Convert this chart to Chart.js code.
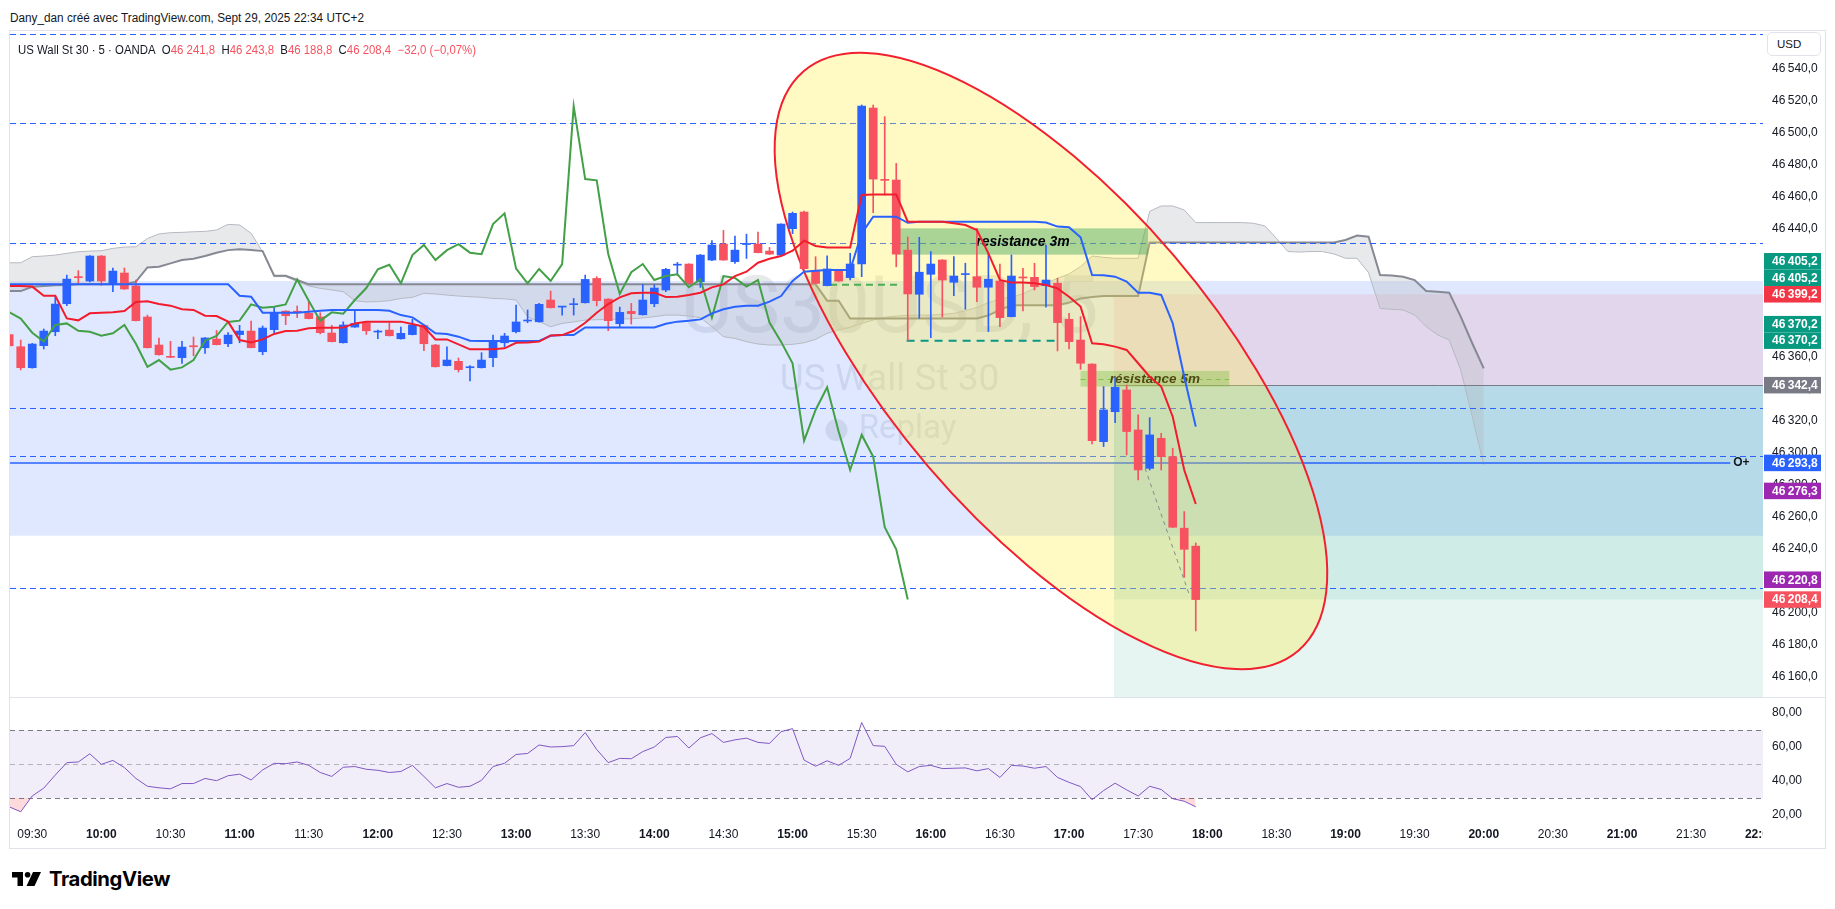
<!DOCTYPE html>
<html lang="fr"><head><meta charset="utf-8"><title>US Wall St 30 · 5 · OANDA</title>
<script src="https://cdn.jsdelivr.net/npm/chart.js@4.4.1/dist/chart.umd.min.js"></script>
<style>
html,body{margin:0;padding:0}
body{width:1835px;height:909px;background:#fff;position:relative;overflow:hidden;font-family:'Liberation Sans',Arial,sans-serif;color:#131722}
.abs{position:absolute}
#legend .v{color:#f7525f}
</style></head><body>
<div id="hdr" class="abs" style="left:10px;top:11px;font-size:12px;line-height:15px;white-space:nowrap;color:#131722">Dany_dan créé avec TradingView.com, Sept 29, 2025 22:34 UTC+2</div>
<div class="abs" style="left:9px;top:30px;width:1817px;height:819px;border:1px solid #e0e3eb;box-sizing:border-box"></div>
<canvas id="main" class="abs" width="1815" height="666" style="left:10px;top:31px;width:1815px;height:666px"></canvas>
<div class="abs" style="left:10px;top:697px;width:1815px;height:1px;background:#e0e3eb"></div>
<canvas id="rsi" class="abs" width="1815" height="150" style="left:10px;top:698px;width:1815px;height:150px"></canvas>
<div id="legend" class="abs" style="left:18px;top:43px;font-size:12px;line-height:14px;white-space:nowrap">US Wall St 30 · 5 · OANDA&nbsp;&nbsp;O<span class="v">46 241,8</span>&nbsp;&nbsp;H<span class="v">46 243,8</span>&nbsp;&nbsp;B<span class="v">46 188,8</span>&nbsp;&nbsp;C<span class="v">46 208,4</span>&nbsp;&nbsp;<span class="v">−32,0 (−0,07%)</span></div>
<div class="abs" style="left:1767px;top:32px;width:54px;height:24px;border:1px solid #e0e3eb;border-radius:5px;box-sizing:border-box;font-size:11.5px;line-height:22px;padding-left:9px;color:#131722;background:#fff">USD</div>
<div class="abs" style="left:12px;top:872px;width:30px;height:14px">
<svg width="30" height="14" viewBox="0 0 30 14"><path d="M0 0H11V14H5.5V5.5H0Z" fill="#000"/><circle cx="15.6" cy="2.8" r="2.8" fill="#000"/><path d="M21 0H29L22.5 14H14.5Z" fill="#000"/></svg></div>
<div id="logo" class="abs" style="left:49px;top:867px;font-family:Inter,'Liberation Sans',sans-serif;font-weight:700;font-size:20px;line-height:24px;letter-spacing:-0.4px;color:#000;white-space:nowrap">TradingView</div>
<script>
// ---------- DATA ----------
const firstBarTime = '09:20';   // 5-minute bars
const barMinutes = 5;
const opens = [46374,46366.4,46353.3,46367.1,46375.8,46393.3,46410.2,46407.5,46423.1,46405.4,
46412.5,46404.4,46385,46367.5,46360,46359.6,46366.8,46365.8,46371.2,46368.3,
46374,46376.2,46363.3,46377.1,46388.7,46388.3,46387.3,46385,46375,46368.9,
46378.7,46381.4,46375.6,46376.8,46371.4,46374,46379.6,46367.5,46354.6,46357.3,
46353.3,46353.3,46359.6,46368.9,46375.8,46382.5,46382,46395.6,46391.2,46392.7,
46393.9,46409.1,46396.2,46380.8,46388.5,46386.4,46393.3,46401.9,46417.4,46418.1,
46407,46420.6,46430.6,46419.6,46430.3,46430.6,46426.2,46423.7,46440.2,46450.6,
46413.7,46404.6,46413.7,46409.6,46418.1,46515.6,46470.6,46470.6,46426.8,46399.2,
46411.7,46420.6,46406.7,46411.5,46410.2,46403.6,46407.5,46385.2,46409.6,46409.8,
46404.6,46406.1,46383.6,46370.6,46355.6,46307.1,46325.8,46339.4,46314.4,46290.4,
46309.2,46297.7,46253,46241.8];
const highs = [46375,46370.6,46368.5,46377.5,46397.7,46411.2,46414,46423.4,46423.4,46415.6,
46415.6,46408.1,46386.2,46371.9,46369.8,46369.8,46372.5,46372.1,46376.6,46375.2,
46379.8,46382.5,46379.4,46391.4,46388.9,46391.9,46394.8,46387.7,46379.8,46382,
46388.7,46381.6,46376.8,46381.4,46378.7,46383.5,46379.8,46367.9,46366.4,46359.4,
46354.6,46362.7,46373.7,46374.8,46392.5,46389.4,46393.5,46401.2,46391.6,46396.6,
46411.2,46410.2,46396.4,46391.2,46393.5,46405.4,46405.2,46415.4,46419.1,46418.3,
46424.1,46432.7,46439.1,46435.6,46436.8,46438.1,46428.5,46443.3,46450.6,46451.2,
46422.7,46423.3,46414.4,46424.8,46517.5,46517.5,46510.2,46481,46435,46434.8,
46425.9,46420.8,46422.7,46418.6,46440.4,46424.8,46418,46423.8,46415.4,46418.6,
46430,46409.2,46387.3,46385.2,46355.8,46341.5,46347.1,46342.5,46323.8,46322.1,
46312.3,46303,46263.4,46243.8];
const lows = [46366,46351.9,46353,46365,46373.3,46392.1,46405.4,46406.9,46404.8,46400.8,
46402.3,46382.5,46365.6,46361.2,46359.6,46356,46360.8,46362.3,46367.5,46366.4,
46368.9,46365.6,46361.4,46375.2,46380.2,46384.6,46383.8,46374.4,46369.4,46368.7,
46378.5,46374.1,46371.4,46373.1,46371.2,46373.8,46364,46353.7,46354.4,46350.6,
46345,46353.1,46354,46366.4,46375,46381.4,46381.8,46390.6,46386.2,46386.2,
46393.7,46391.9,46376.4,46378.7,46380.6,46386.2,46391.4,46400.8,46411.2,46405.8,
46403.5,46420.2,46420.4,46418.5,46421.6,46425,46424.1,46423.5,46437.1,46415,
46405.8,46404.4,46407.3,46408.1,46410.2,46450.2,46461.2,46416.4,46370.2,46384.2,
46372.1,46385,46398.4,46389.8,46394.6,46375.9,46379,46385,46388.8,46401.9,
46391.1,46363.8,46365,46352.3,46305.6,46304,46319,46298.8,46283.1,46289.4,
46289.4,46253.4,46222.3,46188.8];
const closes = [46367,46353.3,46368.1,46376.2,46393.1,46408.7,46409.6,46423.1,46407.5,46413.7,
46402.5,46382.7,46365.8,46361.4,46359.8,46366.2,46366.4,46371.9,46367.7,46373.7,
46376.2,46365.8,46378.1,46387.7,46385.8,46388,46384,46375.2,46369.6,46380,
46381,46376.4,46375.8,46373.3,46374.8,46380,46368.3,46353.9,46358.1,46352.1,
46353.5,46358.1,46370.2,46373.1,46381.9,46382.7,46392.9,46390.8,46391.4,46392.9,
46408.5,46395.2,46382.7,46387.9,46387.1,46395.6,46403.1,46414.8,46417.6,46406,
46423.7,46430,46420.6,46426.8,46430.5,46425.2,46424.3,46443.1,46449.8,46415.2,
46406,46415,46407.5,46418.1,46516.8,46471.2,46470.4,46424.3,46399.4,46413,
46418.1,46408.1,46410.6,46411.7,46403.6,46408.6,46384.6,46410.6,46409.4,46404,
46408.1,46381.5,46369.6,46356.1,46307.7,46326.9,46341.1,46313.4,46289.4,46311.3,
46297.7,46253.6,46239.8,46208.4];
// Ichimoku lines as seen on the chart (one value per bar from 09:20)
const conversionLine = [46404.4,46404.4,46404,46398.3,46398.3,46384.1,46382.9,46387.3,46387.7,46387.9,
46388.7,46394.4,46394.8,46393.1,46392.1,46389.8,46389.4,46385.8,46385.6,46382.1,
46370.6,46369.1,46371,46374.4,46376.2,46376.4,46377.9,46378.3,46378.3,46378.5,
46381,46382.1,46382.1,46382.1,46382.1,46380.6,46378.9,46371,46371,46367.9,
46364.8,46364.8,46364.8,46365.4,46368.9,46369.1,46369.6,46373.5,46373.7,46376.4,
46381.4,46387.7,46393.1,46397.3,46399.8,46400.2,46400.2,46397.5,46397.7,46398.7,
46400.2,46403.5,46405.4,46410.6,46413.3,46418.9,46421.4,46423.1,46426.4,46432.7,
46429.4,46428.5,46428.5,46428.5,46461.2,46461.6,46461.6,46461.6,46444.6,46444.6,
46444.6,46444.6,46443.6,46442.5,46439.4,46424.8,46408.2,46406.5,46406.5,46406.1,
46405,46402.9,46397.7,46391.5,46368.6,46368,46366.5,46364.4,46356.1,46347.7,
46341.5,46322.7,46289.4,46268.1];
const baseLine = [46405.4,46405.4,46405.4,46405.4,46405.4,46405.4,46405.4,46405.4,46405.4,46405.4,
46405.4,46405.4,46405.4,46405.4,46405.4,46405.4,46405.4,46405.4,46405.4,46405.4,
46398.3,46397.7,46387.7,46387.7,46387.7,46387.7,46388.3,46388.9,46389.4,46389.4,
46389.4,46389.4,46389.4,46388.9,46386.2,46384.8,46380,46374.8,46374.4,46372.7,
46370.2,46370,46370,46370,46370,46370,46370,46373.3,46373.7,46373.7,
46378.5,46378.5,46378.5,46378.5,46378.5,46378.5,46378.5,46380.8,46382.1,46382.7,
46383.5,46387.3,46389.8,46391.4,46392.1,46392.1,46394.6,46398.1,46407.5,46413.3,
46413.9,46414.4,46414.4,46414.4,46437.3,46447.7,46447.7,46447.7,46443.9,46444.6,
46444.6,46444.6,46444.6,46444.6,46444.6,46444.6,46444.6,46444.6,46444.6,46444.6,
46444,46441.5,46441.1,46434.8,46411.3,46411.1,46410.2,46407.1,46400.2,46400.2,
46398.8,46381.1,46347.7,46316.5];
const laggingSpan = [46388,46384,46375.2,46369.6,46380,46381,46376.4,46375.8,46373.3,46374.8,
46380,46368.3,46353.9,46358.1,46352.1,46353.5,46358.1,46370.2,46373.1,46381.9,
46382.7,46392.9,46390.8,46391.4,46392.9,46408.5,46395.2,46382.7,46387.9,46387.1,
46395.6,46403.1,46414.8,46417.6,46406,46423.7,46430,46420.6,46426.8,46430.5,
46425.2,46424.3,46443.1,46449.8,46415.2,46406,46415,46407.5,46418.1,46516.8,
46471.2,46470.4,46424.3,46399.4,46413,46418.1,46408.1,46410.6,46411.7,46403.6,
46408.6,46384.6,46410.6,46409.4,46404,46408.1,46381.5,46369.6,46356.1,46307.7,
46326.9,46341.1,46313.4,46289.4,46311.3,46297.7,46253.6,46239.8,46208.4];
const leadingSpanA = [46418.9,46418.9,46422.7,46423.1,46423.7,46424.8,46425.8,46426.2,46426.4,46427.9,
46428.7,46428.9,46434.1,46436.9,46437.7,46437.9,46438.3,46438.5,46439.4,46442.9,
46442.5,46437.3,46425.8,46410.2,46410.2,46407.1,46404.4,46402.9,46401.9,46400.8,
46395.2,46394.4,46394.6,46395.2,46396.6,46397.3,46399.8,46399.4,46398.7,46398.1,
46397.7,46397.3,46396.6,46396.4,46395.6,46385.2,46382.1,46378.9,46381,46381.9,
46383.1,46383.3,46383.5,46383.7,46383.9,46384.4,46385.2,46386.2,46386.2,46385.6,
46384.6,46378.9,46372.7,46371.6,46369.6,46368.1,46367.5,46367.5,46367.9,46368.9,
46371,46374.8,46376.9,46378.5,46381,46383.1,46384.8,46385.6,46386,46386.2,
46386.2,46386.6,46387.3,46388.9,46391,46394,46396.1,46397.7,46399.4,46402.9,
46406.1,46409.2,46411.9,46416.5,46423.1,46422.3,46421.7,46421.7,46421.7,46451,
46454.4,46454.4,46451.9,46444,46444,46444,46444,46444,46443.6,46441.9,
46434.2,46425.9,46425.6,46425.9,46425.9,46424.4,46421.7,46421.7,46412.7,46390.4,
46389.8,46389.4,46386.3,46379,46373.8,46370.6,46351.9,46322.7,46292.5];
const leadingSpanB = [46401.2,46401.2,46403.9,46404.4,46404.8,46405,46405.4,46405.4,46405.4,46405.4,
46405.4,46407.1,46416,46416.4,46418.5,46420.6,46421.4,46423.1,46425.2,46426.8,
46427.3,46426.8,46426.2,46410.8,46410.8,46408.1,46405.4,46405.4,46405.4,46405.4,
46405.4,46405.4,46405.4,46405.4,46405.4,46405.4,46405.4,46405.4,46405.4,46405.4,
46405.4,46405.4,46405.4,46405.4,46405.4,46405.4,46405.4,46405.4,46405.4,46405.4,
46405.4,46405.4,46405.4,46405.4,46405.4,46405.4,46405.4,46405.4,46405.4,46405.4,
46405.4,46405.4,46405.4,46405.4,46405.4,46405.4,46405.4,46405.4,46405.4,46405.4,
46405.4,46395.2,46395.2,46384.1,46384.1,46384.1,46384.1,46384.1,46384.1,46384.1,
46384.1,46384.1,46384.1,46384.1,46384.1,46386,46389.5,46392.3,46392.3,46392.3,
46392.3,46392.3,46394,46396.5,46397.5,46398.2,46398.2,46398.2,46398.2,46431.5,
46431.5,46431.5,46431.5,46431.5,46431.5,46431.5,46431.5,46431.5,46431.5,46431.5,
46431.5,46431.5,46431.5,46431.5,46431.5,46431.5,46433.1,46435.9,46435.2,46411.3,
46410.9,46410.2,46408.1,46401.3,46400.8,46400.2,46385.2,46368.6,46352.9];
const rsiValues = [24.8,21.9,31.2,35.8,43.5,50.8,51.2,56,49.8,52.1,
47.9,41.5,36.9,36,35.4,38.5,38.5,41.5,40.2,43.1,
44,40.6,46.5,50.4,50.2,51.2,49.2,45,42.7,48.1,
48.5,46.9,46.3,45,45.6,49.2,42.7,36,38.5,36.3,
36.9,40.4,48.5,50.4,55.6,56.2,61.2,60,60.2,60.8,
68.5,58.5,50.8,53.3,53.1,57.3,60,65.6,66.2,59.4,
65.4,67.9,62.7,64.2,65.2,62.7,62.1,69,70.8,52.3,
48.7,51.9,49.2,53.3,74.4,60.8,60.4,49.8,45.4,48.5,
49.2,47.3,47.5,47.7,46,47.3,42.1,49.2,48.8,47.5,
48.5,42.1,39.2,36.7,29,34.4,38.7,34.8,31.2,36.9,
35,29.6,28.1,24.8];
const timeTickLabels = ['09:30','10:00','10:30','11:00','11:30','12:00','12:30','13:00','13:30','14:00','14:30','15:00','15:30','16:00','16:30','17:00','17:30','18:00','18:30','19:00','19:30','20:00','20:30','21:00','21:30','22:00'];
const priceTicks = [46160,46180,46200,46220,46240,46260,46280,46300,46320,46340,46360,46380,46400,46420,46440,46460,46480,46500,46520,46540];
const rsiTicks = [20,40,60,80];
const rsiLevels = [70,50,30];
// price-scale badges
const badgePrices = [46405.2,46405.2,46399.2,46370.2,46370.2,46342.4,46293.8,46276.3,46220.8,46208.4];
const badgeColors = ['#089981','#089981','#f23645','#089981','#089981','#787b86','#2962ff','#9c27b0','#9c27b0','#f7525f'];
// drawings (time in minutes since midnight, price)
const dashedLevels = [46562,46506,46431,46328,46298,46215.5];
const solidLevel = {price:46293.8, end:1307};
const zoneRect = {top:46407.5, bottom:46248.3};
const shortPosition = {start:1039.5, entry:46342.4, stop:46399.2, target:46100, current:46208.4};
const ellipseShape = {t1:904.8, p1:46538.6, t2:1119.5, p2:46176.4, ratio:0.425};
const box3m = {t1:945.75, t2:1054.25, top:46440.4, bottom:46424, text:'resistance 3m'};
const box5m = {t1:1025, t2:1089.5, top:46351.3, bottom:46341.5, mid:46346.4, text:'résistance 5m'};
const greenRay = {t1:916.25, t2:947, price:46405.2};
const tealRay = {t1:949.5, t2:1014.5, price:46370.2};
const trendDash = {t1:1053, p1:46290.4, t2:1072.5, p2:46210.2};
const watermark = ['US30USD, 5','US Wall St 30','Replay'];

// ---------- HELPERS ----------
const [fh, fm] = firstBarTime.split(':').map(Number);
const X0 = fh*60 + fm;
const xAt = i => X0 + barMinutes*i;
const toPts = arr => arr.map((v,i)=>({x:xAt(i), y:v}));
const tickMinutes = timeTickLabels.map(s => { const [h,m] = s.split(':').map(Number); return h*60+m; });
const xMin = X0 + barMinutes*0.0694, xMax = X0 + barMinutes*152.24;
function fmtNum(v, dec){
  const s = Math.abs(v).toFixed(dec); const parts = s.split('.');
  const g = parts[0].replace(/\B(?=(\d{3})+(?!\d))/g, '\u2009');
  return (v<0?'−':'') + g + (parts[1]!==undefined ? ','+parts[1] : '');
}
const FONT = "'Liberation Sans', Arial, sans-serif";
Chart.defaults.font.family = FONT;
Chart.defaults.font.size = 12;
Chart.defaults.color = '#131722';

const UP = '#2962ff', DOWN = '#f7525f';
const candleColors = opens.map((o,i)=> closes[i] >= o ? UP : DOWN);
const wickData = lows.map((l,i)=>({x:xAt(i), y:[l, highs[i]]}));
const bodyData = opens.map((o,i)=>({x:xAt(i), y:[Math.min(o,closes[i]), Math.max(o,closes[i])]}));

function hline(ctx, x1, x2, y, color, w, dash){
  ctx.save(); ctx.strokeStyle=color; ctx.lineWidth=w; ctx.setLineDash(dash||[]);
  const yy = (w%2===1) ? Math.round(y)+0.5 : y;
  ctx.beginPath(); ctx.moveTo(x1,yy); ctx.lineTo(x2,yy); ctx.stroke(); ctx.restore();
}
function band(ctx, x1, x2, y1, y2, color){
  ctx.fillStyle = color; ctx.fillRect(x1, Math.min(y1,y2), x2-x1, Math.abs(y2-y1));
}
const noPadY = s => { s.width = 62; s.paddingTop = 0; s.paddingBottom = 0; };
const NOGRID = {display:false, drawTicks:false};

const drawings = {
  id:'drawings',
  beforeDatasetsDraw(chart){
    const {ctx, chartArea:a, scales:{x,y}} = chart;
    const X = v=>x.getPixelForValue(v), Y = v=>y.getPixelForValue(v);
    ctx.save();
    ctx.beginPath(); ctx.rect(a.left,a.top,a.right-a.left,a.bottom-a.top); ctx.clip();
    // watermark
    const cx=(a.left+a.right)/2, cy=(a.top+a.bottom)/2;
    ctx.fillStyle='rgba(120,123,134,0.17)'; ctx.textAlign='center'; ctx.textBaseline='middle';
    ctx.font="80px Roboto, "+FONT; ctx.fillText(watermark[0], cx+3, cy-52, 445);
    ctx.font="37px Roboto, "+FONT; ctx.fillText(watermark[1], cx+3, cy+17, 228);
    ctx.font="33px Roboto, "+FONT; ctx.fillText(watermark[2], cx+21, cy+66);
    ctx.beginPath(); ctx.arc(cx-50, cy+66, 11, 0, Math.PI*2); ctx.fill();
    // blue zone rectangle
    band(ctx, a.left, a.right, Y(zoneRect.top), Y(zoneRect.bottom), 'rgba(41,98,255,0.15)');
    // short position tool
    const p = shortPosition, px0 = X(p.start);
    band(ctx, px0, a.right, Y(p.stop), Y(p.entry), 'rgba(242,54,69,0.1)');
    band(ctx, px0, a.right, Y(p.entry), Y(p.target), 'rgba(8,153,129,0.1)');
    band(ctx, px0, a.right, Y(p.entry), Y(p.current), 'rgba(8,153,129,0.1)');
    ctx.restore();
  },
  afterDatasetDraw(chart, args){
    if (args.index !== 1) return;   // right after the cloud
    const {ctx, chartArea:a, scales:{x,y}} = chart;
    const X = v=>x.getPixelForValue(v), Y = v=>y.getPixelForValue(v);
    ctx.save();
    ctx.beginPath(); ctx.rect(a.left,a.top,a.right-a.left,a.bottom-a.top); ctx.clip();
    hline(ctx, X(shortPosition.start), a.right, Y(shortPosition.entry), '#787b86', 1);
    dashedLevels.forEach(v => hline(ctx, a.left, a.right, Y(v), '#2962ff', 1, [6,4]));
    hline(ctx, a.left, X(solidLevel.end), Y(solidLevel.price), '#2962ff', 1.5);
    // resistance 5m
    band(ctx, X(box5m.t1), X(box5m.t2), Y(box5m.top), Y(box5m.bottom), 'rgba(76,175,80,0.4)');
    hline(ctx, X(box5m.t1), X(box5m.t2), Y(box5m.mid), '#4caf50', 1, [5,4]);
    ctx.fillStyle='#000'; ctx.font='italic bold 13.5px '+FONT; ctx.textAlign='center'; ctx.textBaseline='middle';
    ctx.fillText(box5m.text, (X(box5m.t1)+X(box5m.t2))/2, (Y(box5m.top)+Y(box5m.bottom))/2+1);
    // ellipse
    const e = ellipseShape;
    const x1=X(e.t1), y1=Y(e.p1), x2=X(e.t2), y2=Y(e.p2);
    const ra = Math.hypot(x2-x1, y2-y1)/2, rot = Math.atan2(y2-y1, x2-x1);
    ctx.beginPath(); ctx.ellipse((x1+x2)/2, (y1+y2)/2, ra, ra*e.ratio, rot, 0, Math.PI*2);
    ctx.fillStyle='rgba(255,235,59,0.3)'; ctx.fill();
    ctx.lineWidth=2; ctx.strokeStyle='#f2202e'; ctx.stroke();
    // resistance 3m
    band(ctx, X(box3m.t1), X(box3m.t2), Y(box3m.top), Y(box3m.bottom), 'rgba(67,165,95,0.45)');
    ctx.fillStyle='#000'; ctx.font='italic bold 14px '+FONT;
    ctx.fillText(box3m.text, (X(box3m.t1)+X(box3m.t2))/2, (Y(box3m.top)+Y(box3m.bottom))/2+1);
    // rays
    hline(ctx, X(greenRay.t1), X(greenRay.t2), Y(greenRay.price), '#4caf50', 2, [7,5]);
    hline(ctx, X(tealRay.t1), X(tealRay.t2), Y(tealRay.price), '#089981', 2, [8,6]);
    // dashed path
    ctx.save(); ctx.strokeStyle='rgba(120,123,134,0.85)'; ctx.lineWidth=1; ctx.setLineDash([4,4]);
    ctx.beginPath(); ctx.moveTo(X(trendDash.t1), Y(trendDash.p1)); ctx.lineTo(X(trendDash.t2), Y(trendDash.p2)); ctx.stroke(); ctx.restore();
    ctx.restore();
  },
  afterDatasetsDraw(chart){
    const {ctx, scales:{x,y}} = chart;
    ctx.save(); ctx.fillStyle='#131722'; ctx.font='bold 12px '+FONT; ctx.textAlign='left'; ctx.textBaseline='middle';
    ctx.fillText('O+', x.getPixelForValue(solidLevel.end)+3, y.getPixelForValue(solidLevel.price));
    ctx.restore();
  },
  afterDraw(chart){
    const {ctx, chartArea:a, scales:{y}} = chart;
    const H = 16.5; let prev = Infinity; const ys = [];
    for (let i = badgePrices.length-1; i>=0; i--){ const yy = Math.min(y.getPixelForValue(badgePrices[i]), prev - H); ys[i]=yy; prev=yy; }
    ctx.save(); ctx.font='bold 12px '+FONT; ctx.textAlign='left'; ctx.textBaseline='middle';
    badgePrices.forEach((p,i)=>{
      ctx.fillStyle = badgeColors[i]; ctx.fillRect(a.right+1, ys[i]-H/2, 57, H);
      ctx.fillStyle = '#fff'; ctx.fillText(fmtNum(p,1), a.right+9, ys[i]+0.5);
    });
    ctx.restore();
  }
};

new Chart(document.getElementById('main'), {
  type:'bar',
  data:{datasets:[
    {type:'line', label:'Leading Span A', data:toPts(leadingSpanA), borderColor:'#b6b9c1', borderWidth:1, pointRadius:0, tension:0, fill:'+1', backgroundColor:'rgba(178,181,190,0.3)', order:10},
    {type:'line', label:'Leading Span B', data:toPts(leadingSpanB), borderColor:'#868993', borderWidth:2, pointRadius:0, tension:0, fill:false, order:9},
    {type:'bar', label:'wicks', data:wickData, backgroundColor:candleColors, barThickness:1, grouped:false, order:5},
    {type:'bar', label:'bodies', data:bodyData, backgroundColor:candleColors, barThickness:8, minBarLength:1, grouped:false, order:4},
    {type:'line', label:'Lagging Span', data:toPts(laggingSpan), borderColor:'#43a047', borderWidth:2, pointRadius:0, tension:0, fill:false, order:3},
    {type:'line', label:'Base Line', data:toPts(baseLine), borderColor:'#2962ff', borderWidth:2, pointRadius:0, tension:0, fill:false, order:2},
    {type:'line', label:'Conversion Line', data:toPts(conversionLine), borderColor:'#f21c2c', borderWidth:2, pointRadius:0, tension:0, fill:false, order:1}
  ]},
  options:{
    responsive:false, animation:false, events:[],
    layout:{padding:0},
    plugins:{legend:{display:false}, tooltip:{enabled:false}},
    scales:{
      x:{type:'linear', min:xMin, max:xMax, offset:false, display:false, grid:NOGRID},
      y:{type:'linear', position:'right', min:46147.5, max:46563.75, grid:NOGRID, border:{display:false},
         ticks:{padding:9, color:'#131722', font:{size:12}, callback:v=>fmtNum(v,1)},
         afterBuildTicks:s=>{ s.ticks = priceTicks.map(v=>({value:v})); },
         afterFit:noPadY}
    }
  },
  plugins:[drawings]
});

const rsiPlugin = {
  id:'rsiBand',
  beforeDatasetsDraw(chart){
    const {ctx, chartArea:a, scales:{y}} = chart;
    const yU=y.getPixelForValue(rsiLevels[0]), yM=y.getPixelForValue(rsiLevels[1]), yL=y.getPixelForValue(rsiLevels[2]);
    ctx.save();
    band(ctx, a.left, a.right, yU, yL, 'rgba(126,87,194,0.1)');
    hline(ctx, a.left, a.right, yU, '#787b86', 1, [5,4]);
    hline(ctx, a.left, a.right, yM, 'rgba(120,123,134,0.5)', 1, [5,4]);
    hline(ctx, a.left, a.right, yL, '#787b86', 1, [5,4]);
    ctx.restore();
  },
  afterDraw(chart){
    const {ctx, chartArea:a} = chart;
    ctx.save(); ctx.fillStyle='#fff'; ctx.fillRect(a.right, a.bottom+1, chart.width-a.right, chart.height-a.bottom); ctx.restore();
  }
};

new Chart(document.getElementById('rsi'), {
  type:'line',
  data:{datasets:[{label:'RSI', data:toPts(rsiValues), borderColor:'#7e57c2', borderWidth:1, pointRadius:0, tension:0,
    fill:{target:{value:30}, above:'rgba(0,0,0,0)', below:'rgba(242,54,69,0.18)'}}]},
  options:{
    responsive:false, animation:false, events:[],
    layout:{padding:0},
    plugins:{legend:{display:false}, tooltip:{enabled:false}},
    scales:{
      x:{type:'linear', min:xMin, max:xMax, offset:false, grid:NOGRID, border:{display:false},
         ticks:{autoSkip:false, maxRotation:0, padding:6, color:'#131722',
                font:c=>({size:12, weight:(c.tick && timeTickLabels[tickMinutes.indexOf(c.tick.value)] || '').endsWith(':00') ? 'bold' : 'normal'}),
                callback:v=>{ const i = tickMinutes.indexOf(v); return i>=0 ? timeTickLabels[i] : ''; }},
         afterBuildTicks:s=>{ s.ticks = tickMinutes.map(v=>({value:v})); },
         afterFit:s=>{ s.height = 27; s.paddingLeft = 0; s.paddingRight = 0; }},
      y:{type:'linear', position:'right', min:16.47, max:88.82, grid:NOGRID, border:{display:false},
         ticks:{padding:9, color:'#131722', font:{size:12}, callback:v=>fmtNum(v,2)},
         afterBuildTicks:s=>{ s.ticks = rsiTicks.map(v=>({value:v})); },
         afterFit:noPadY}
    }
  },
  plugins:[rsiPlugin]
});

function fitWidth(id, w){
  const el = document.getElementById(id);
  const r = el.getBoundingClientRect().width;
  if (r > 0){ el.style.transformOrigin = '0 50%'; el.style.transform = 'scaleX(' + (w/r) + ')'; }
}
fitWidth('hdr', 354);
fitWidth('legend', 458);
fitWidth('logo', 121);
</script>
</body></html>
